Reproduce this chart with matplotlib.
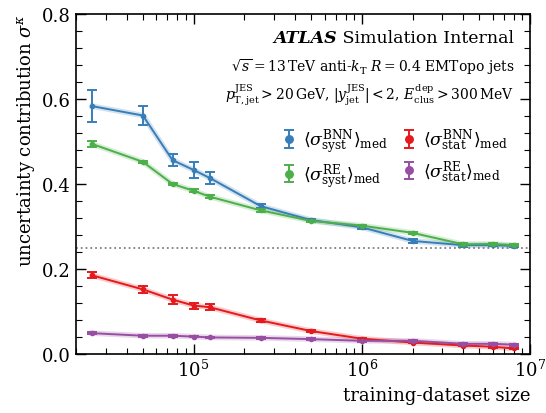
import numpy as np
import matplotlib
matplotlib.use("Agg")
import matplotlib.pyplot as plt
from matplotlib.ticker import MultipleLocator, LogLocator, NullFormatter

plt.rcParams['font.family'] = ['DejaVu Serif']
plt.rcParams['mathtext.fontset'] = 'dejavuserif'

# training-dataset sizes
sizes = [2.5e4, 5e4, 7.5e4, 1e5, 1.25e5, 2.5e5, 5e5, 1e6, 2e6, 4e6, 6e6, 8e6]

# median uncertainty contributions
syst_bnn = [0.583, 0.561, 0.456, 0.433, 0.414, 0.348, 0.315, 0.298, 0.266, 0.256, 0.256, 0.254]
syst_bnn_err = [0.038, 0.023, 0.014, 0.018, 0.013, 0.005, 0.003, 0.004, 0.005, 0.004, 0.003, 0.003]
syst_re = [0.494, 0.452, 0.400, 0.384, 0.370, 0.338, 0.313, 0.302, 0.285, 0.258, 0.259, 0.256]
syst_re_err = [0.008, 0.003, 0.003, 0.003, 0.003, 0.003, 0.002, 0.002, 0.002, 0.003, 0.003, 0.003]
stat_bnn = [0.185, 0.152, 0.128, 0.114, 0.110, 0.079, 0.054, 0.036, 0.027, 0.020, 0.017, 0.013]
stat_bnn_err = [0.007, 0.008, 0.010, 0.007, 0.007, 0.003, 0.002, 0.002, 0.002, 0.002, 0.002, 0.002]
stat_re = [0.049, 0.043, 0.043, 0.041, 0.039, 0.038, 0.035, 0.031, 0.031, 0.024, 0.024, 0.022]
stat_re_err = [0.002, 0.002, 0.002, 0.002, 0.002, 0.002, 0.002, 0.002, 0.002, 0.002, 0.002, 0.002]

fig = plt.figure(figsize=(5.46, 4.14), dpi=100)
ax = fig.add_axes([0.139, 0.1425, 0.832, 0.8215])

series = [
    (syst_bnn, syst_bnn_err, '#377eb8', r'$\langle\sigma^{\rm BNN}_{\rm syst}\rangle_{\rm med}$'),
    (syst_re, syst_re_err, '#4daf4a', r'$\langle\sigma^{\rm RE}_{\rm syst}\rangle_{\rm med}$'),
    (stat_bnn, stat_bnn_err, '#e41a1c', r'$\langle\sigma^{\rm BNN}_{\rm stat}\rangle_{\rm med}$'),
    (stat_re, stat_re_err, '#984ea3', r'$\langle\sigma^{\rm RE}_{\rm stat}\rangle_{\rm med}$'),
]

ax.axhline(0.25, color='grey', ls=':', lw=1.3, zorder=1)

handles = []
for vals, errs, col, lab in series:
    ax.plot(sizes, vals, color=col, lw=4, alpha=0.22, zorder=2)
    ax.plot(sizes, vals, color=col, lw=1.4, zorder=3)
    h = ax.errorbar(sizes, vals, yerr=errs, color=col, fmt='o', ms=3,
                    capsize=3.5, capthick=1.4, elinewidth=1.4, label=lab, zorder=4)
    handles.append(h)

ax.set_xscale('log')
ax.set_xlim(2e4, 1e7)
ax.set_ylim(0, 0.8)
ax.yaxis.set_major_locator(MultipleLocator(0.2))
ax.yaxis.set_minor_locator(MultipleLocator(0.04))
ax.xaxis.set_minor_locator(LogLocator(base=10, subs=np.arange(2, 10)))
ax.xaxis.set_minor_formatter(NullFormatter())
ax.tick_params(which='both', direction='in', top=True, right=True, labelsize=13)
ax.tick_params(which='major', length=7, width=1)
ax.tick_params(which='minor', length=4, width=0.8)
for s in ax.spines.values():
    s.set_linewidth(1.2)

ax.set_xlabel('training-dataset size', fontsize=13, loc='right')
ax.set_ylabel(r'uncertainty contribution $\sigma^\kappa$', fontsize=13, loc='top')

t1 = ax.text(0.965, 0.955, ' Simulation Internal', transform=ax.transAxes,
             ha='right', va='top', fontsize=12.5)
ax.annotate('ATLAS', xy=(0, 0), xycoords=t1, ha='right', va='bottom',
            fontsize=12.5, fontweight='bold', style='italic')
ax.text(0.965, 0.875, r'$\sqrt{s}=13\,$TeV anti-$k_{\rm T}$ $R=0.4$ EMTopo jets',
        transform=ax.transAxes, ha='right', va='top', fontsize=10)
ax.text(0.965, 0.80, r'$p_{\rm T,jet}^{\rm JES}>20\,$GeV, $|y_{\rm jet}^{\rm JES}|<2$, $E_{\rm clus}^{\rm dep}>300\,$MeV',
        transform=ax.transAxes, ha='right', va='top', fontsize=10)

ax.legend(handles=handles, ncol=2, loc='upper right', bbox_to_anchor=(0.985, 0.715),
          frameon=False, fontsize=12.5, handlelength=0.8, handletextpad=0.4,
          columnspacing=0.8, labelspacing=0.3, markerscale=1.8)

fig.savefig('out.png', dpi=100)
